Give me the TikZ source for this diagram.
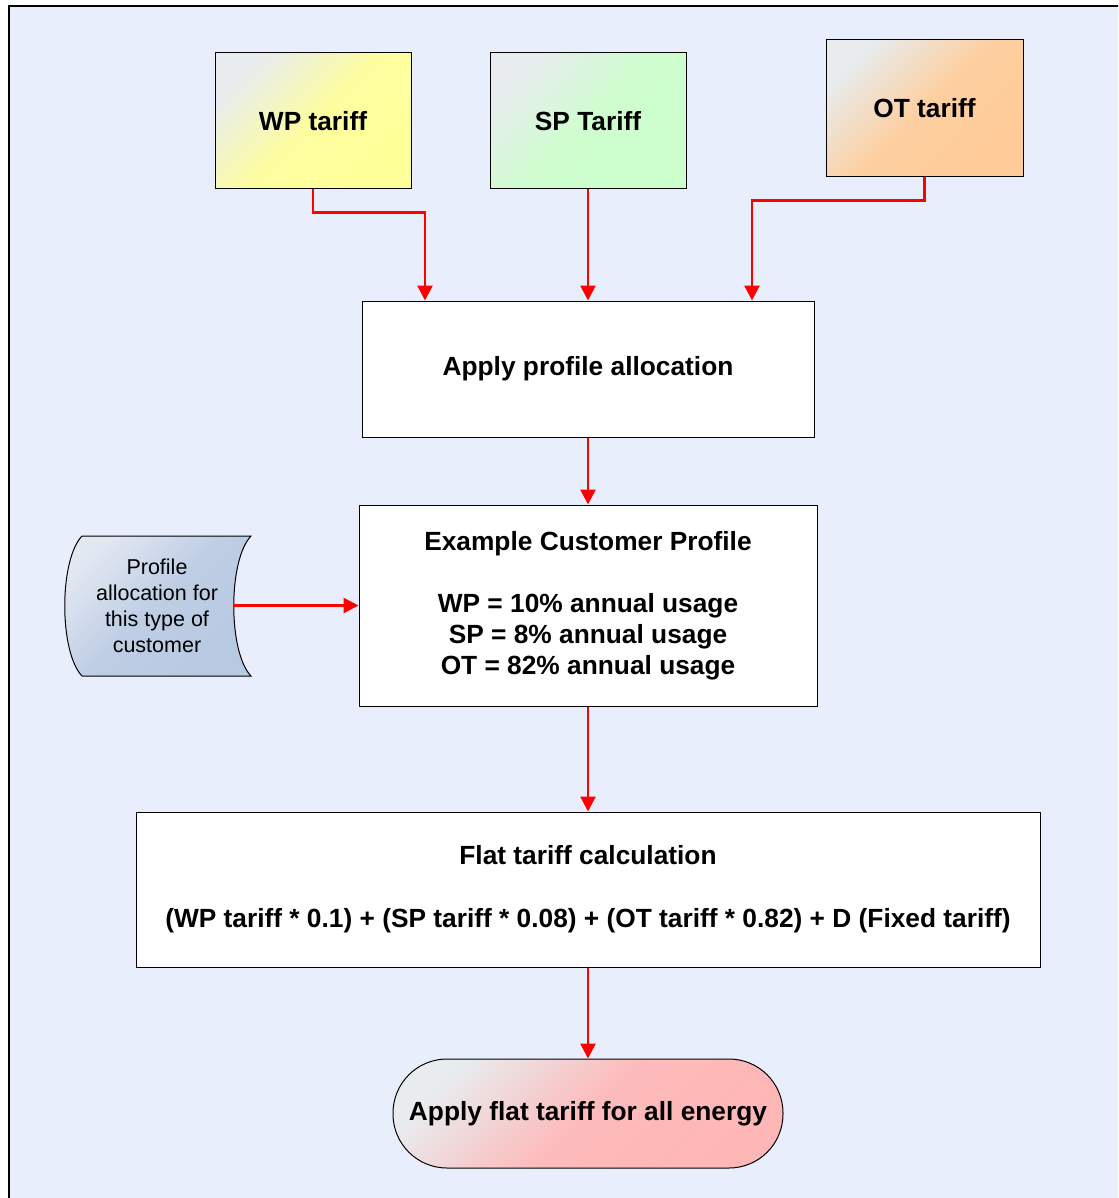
\documentclass[tikz,border=0pt]{standalone}
\usepackage{fontspec}
\setmainfont{Liberation Sans}
\usetikzlibrary{arrows.meta,calc}

\definecolor{panelbg}{HTML}{E8EEFC}
\definecolor{paleg}{HTML}{E8ECEE}
\definecolor{wpcol}{HTML}{FFFF99}
\definecolor{spcol}{HTML}{CCFFCC}
\definecolor{otcol}{HTML}{FFCC99}
\definecolor{termcol}{HTML}{FFB6B6}
\definecolor{tapecol}{HTML}{B8C9E2}
\definecolor{tapelt}{HTML}{E2E8F2}
\definecolor{arrred}{HTML}{FF0000}

\tikzset{
  box/.style={draw=black, line width=1pt, fill=white, align=center,
    font=\fontsize{26.3}{31}\selectfont\bfseries, inner sep=0pt},
  grad/.style={shading=axis, top color=paleg, bottom color=#1,
    middle color=#1!92!paleg, shading angle=45},
  arr/.style={draw=arrred, line width=2.7pt,
    -{Triangle[length=15pt,width=15pt]}},
}

\begin{document}
\begin{tikzpicture}[x=1pt,y=-1pt]
\useasboundingbox (0,0) rectangle (1118,1198);
\clip (0,0) rectangle (1118,1198);

% background panel
\draw[fill=panelbg, line width=1.5pt] (9,6) rectangle (1130,1210);

% tariff sources
\node[box, grad=wpcol, minimum width=196pt, minimum height=136pt] (wp) at (313,121) {WP tariff};
\node[box, grad=spcol, minimum width=196pt, minimum height=136pt] (sp) at (588,121) {SP Tariff};
\node[box, grad=otcol, minimum width=197pt, minimum height=137pt] (ot) at (924.5,108.5) {OT tariff};

% processing steps
\node[box, minimum width=452pt, minimum height=136pt] (apply) at (588,369) {Apply profile allocation};
\node[box, minimum width=458pt, minimum height=201pt] (ex) at (588,605.5)
  {Example Customer Profile\\[31pt]WP = 10\% annual usage\\SP = 8\% annual usage\\OT = 82\% annual usage};
\node[box, minimum width=904pt, minimum height=155pt] (flat) at (588,889.5)
  {Flat tariff calculation\\[32pt](WP tariff * 0.1) + (SP tariff * 0.08) + (OT tariff * 0.82) + D (Fixed tariff)};
\node[box, grad=termcol, rounded corners=54pt, minimum width=390pt, minimum height=109pt] (term) at (588,1113.5)
  {Apply flat tariff for all energy};

% stored data (tape) shape
\shade[shading=axis, top color=tapelt, bottom color=tapecol, middle color=tapecol!85!tapelt,
  shading angle=45, draw=black, line width=1pt]
  (82,536) -- (251,536) .. controls (228,560) and (228,652) .. (251,676)
  -- (82,676) .. controls (59,652) and (59,560) .. (82,536) -- cycle;
\node[align=center, minimum width=152pt, minimum height=140pt, inner sep=0pt,
  font=\fontsize{21.5}{26}\selectfont] (tape) at (157,605.5)
  {Profile\\allocation for\\this type of\\customer};

% connectors
\draw[arr] (wp.south) -- ++(0,23) -| ([xshift=-163pt]apply.north);
\draw[arr] (sp.south) -- (apply.north);
\draw[arr] (ot.south) -- ++(0,23) -| ([xshift=164pt]apply.north);
\draw[arr] (apply.south) -- (ex.north);
\draw[arr] (tape.east) -- (ex.west);
\draw[arr] (ex.south) -- (flat.north);
\draw[arr] (flat.south) -- (term.north);
\end{tikzpicture}
\end{document}
